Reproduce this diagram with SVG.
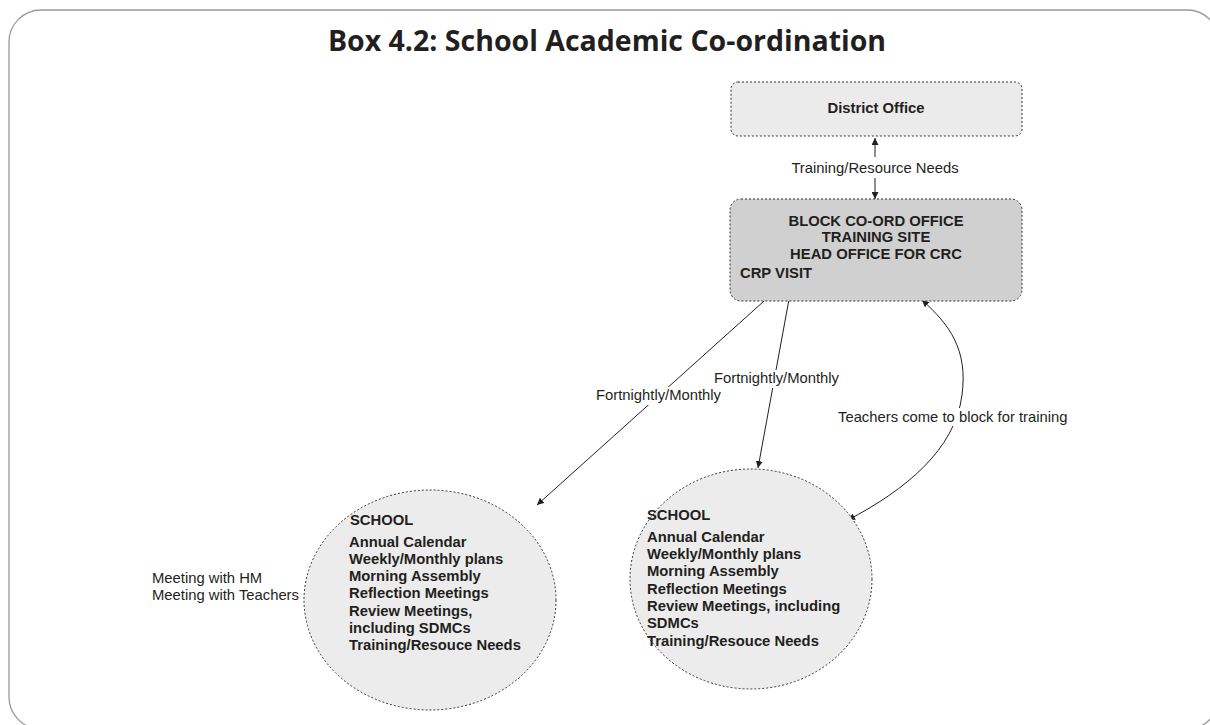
<svg xmlns="http://www.w3.org/2000/svg" width="1210" height="725" viewBox="0 0 1210 725">
<defs>
<style>
.t{font-family:"Liberation Sans",Arial,sans-serif;font-size:14.8px;fill:#231f20}
.b{font-weight:bold}
.box{stroke:#333;stroke-width:1;stroke-dasharray:2 2}
.ln{stroke:#231f20;stroke-width:1;fill:none}
.bg{fill:#fff}
</style>
<marker id="ah" viewBox="0 0 10 10" refX="10" refY="5" markerWidth="7" markerHeight="7" markerUnits="userSpaceOnUse" orient="auto">
<path d="M0,0 L10,5 L0,10 z" fill="#231f20"/>
</marker>
<marker id="ahs" viewBox="0 0 10 10" refX="0" refY="5" markerWidth="7" markerHeight="7" markerUnits="userSpaceOnUse" orient="auto">
<path d="M10,0 L0,5 L10,10 z" fill="#231f20"/>
</marker>
</defs>
<rect width="1210" height="725" fill="#fff"/>
<rect x="9" y="10" width="1210" height="719" rx="32" fill="none" stroke="#9a9a9a" stroke-width="1.3"/>
<text x="607" y="51" text-anchor="middle" style="font-family:'Open Sans','Noto Sans',sans-serif;font-weight:bold;font-size:28.5px;fill:#231f20">Box 4.2: School Academic Co-ordination</text>

<g id="connectors">
<line class="ln" x1="875" y1="157" x2="875" y2="138" marker-end="url(#ah)"/>
<line class="ln" x1="875" y1="178" x2="875" y2="199" marker-end="url(#ah)"/>
<line class="ln" x1="783" y1="284" x2="537" y2="505" marker-end="url(#ah)"/>
<line class="ln" x1="792" y1="283" x2="758" y2="468" marker-end="url(#ah)"/>
<path class="ln" d="M848,520 C905,490 955,450 962,395 C968,350 950,325 922,300" marker-start="url(#ahs)" marker-end="url(#ah)"/>
<rect class="bg" x="790" y="160" width="172" height="17"/>
<text class="t" x="875" y="173" text-anchor="middle">Training/Resource Needs</text>
<rect class="bg" x="594" y="387" width="130" height="18"/>
<text class="t" x="596" y="400">Fortnightly/Monthly</text>
<rect class="bg" x="712" y="370" width="130" height="18"/>
<text class="t" x="714" y="383">Fortnightly/Monthly</text>
<rect class="bg" x="836" y="408" width="236" height="18"/>
<text class="t" x="838" y="422">Teachers come to block for training</text>
</g>

<g id="district-office">
<rect class="box" x="731" y="82" width="291" height="54" rx="7" fill="#ebebeb"/>
<text class="t b" x="876" y="113" text-anchor="middle">District Office</text>
</g>

<g id="block-office">
<rect class="box" x="730" y="199" width="292" height="102" rx="11" fill="#d0d0d0"/>
<text class="t b" x="876" y="226" text-anchor="middle">BLOCK CO-ORD OFFICE</text>
<text class="t b" x="876" y="242" text-anchor="middle">TRAINING SITE</text>
<text class="t b" x="876" y="259" text-anchor="middle">HEAD OFFICE FOR CRC</text>
<text class="t b" x="740" y="278">CRP VISIT</text>
</g>

<g id="school-left">
<ellipse class="box" cx="430" cy="600" rx="126" ry="110" fill="#ececec"/>
<text class="t b" x="350" y="525">SCHOOL</text>
<text class="t b" x="349" y="547">Annual Calendar</text>
<text class="t b" x="349" y="564">Weekly/Monthly plans</text>
<text class="t b" x="349" y="581">Morning Assembly</text>
<text class="t b" x="349" y="598">Reflection Meetings</text>
<text class="t b" x="349" y="616">Review Meetings,</text>
<text class="t b" x="349" y="633">including SDMCs</text>
<text class="t b" x="349" y="650">Training/Resouce Needs</text>
</g>

<g id="meeting-note">
<text class="t" x="152" y="583">Meeting with HM</text>
<text class="t" x="152" y="600">Meeting with Teachers</text>
</g>

<g id="school-right">
<ellipse class="box" cx="751" cy="579" rx="121" ry="110" fill="#ececec"/>
<text class="t b" x="647" y="520">SCHOOL</text>
<text class="t b" x="647" y="542">Annual Calendar</text>
<text class="t b" x="647" y="559">Weekly/Monthly plans</text>
<text class="t b" x="647" y="576">Morning Assembly</text>
<text class="t b" x="647" y="594">Reflection Meetings</text>
<text class="t b" x="647" y="611">Review Meetings, including</text>
<text class="t b" x="647" y="628">SDMCs</text>
<text class="t b" x="647" y="646">Training/Resouce Needs</text>
</g>
</svg>
